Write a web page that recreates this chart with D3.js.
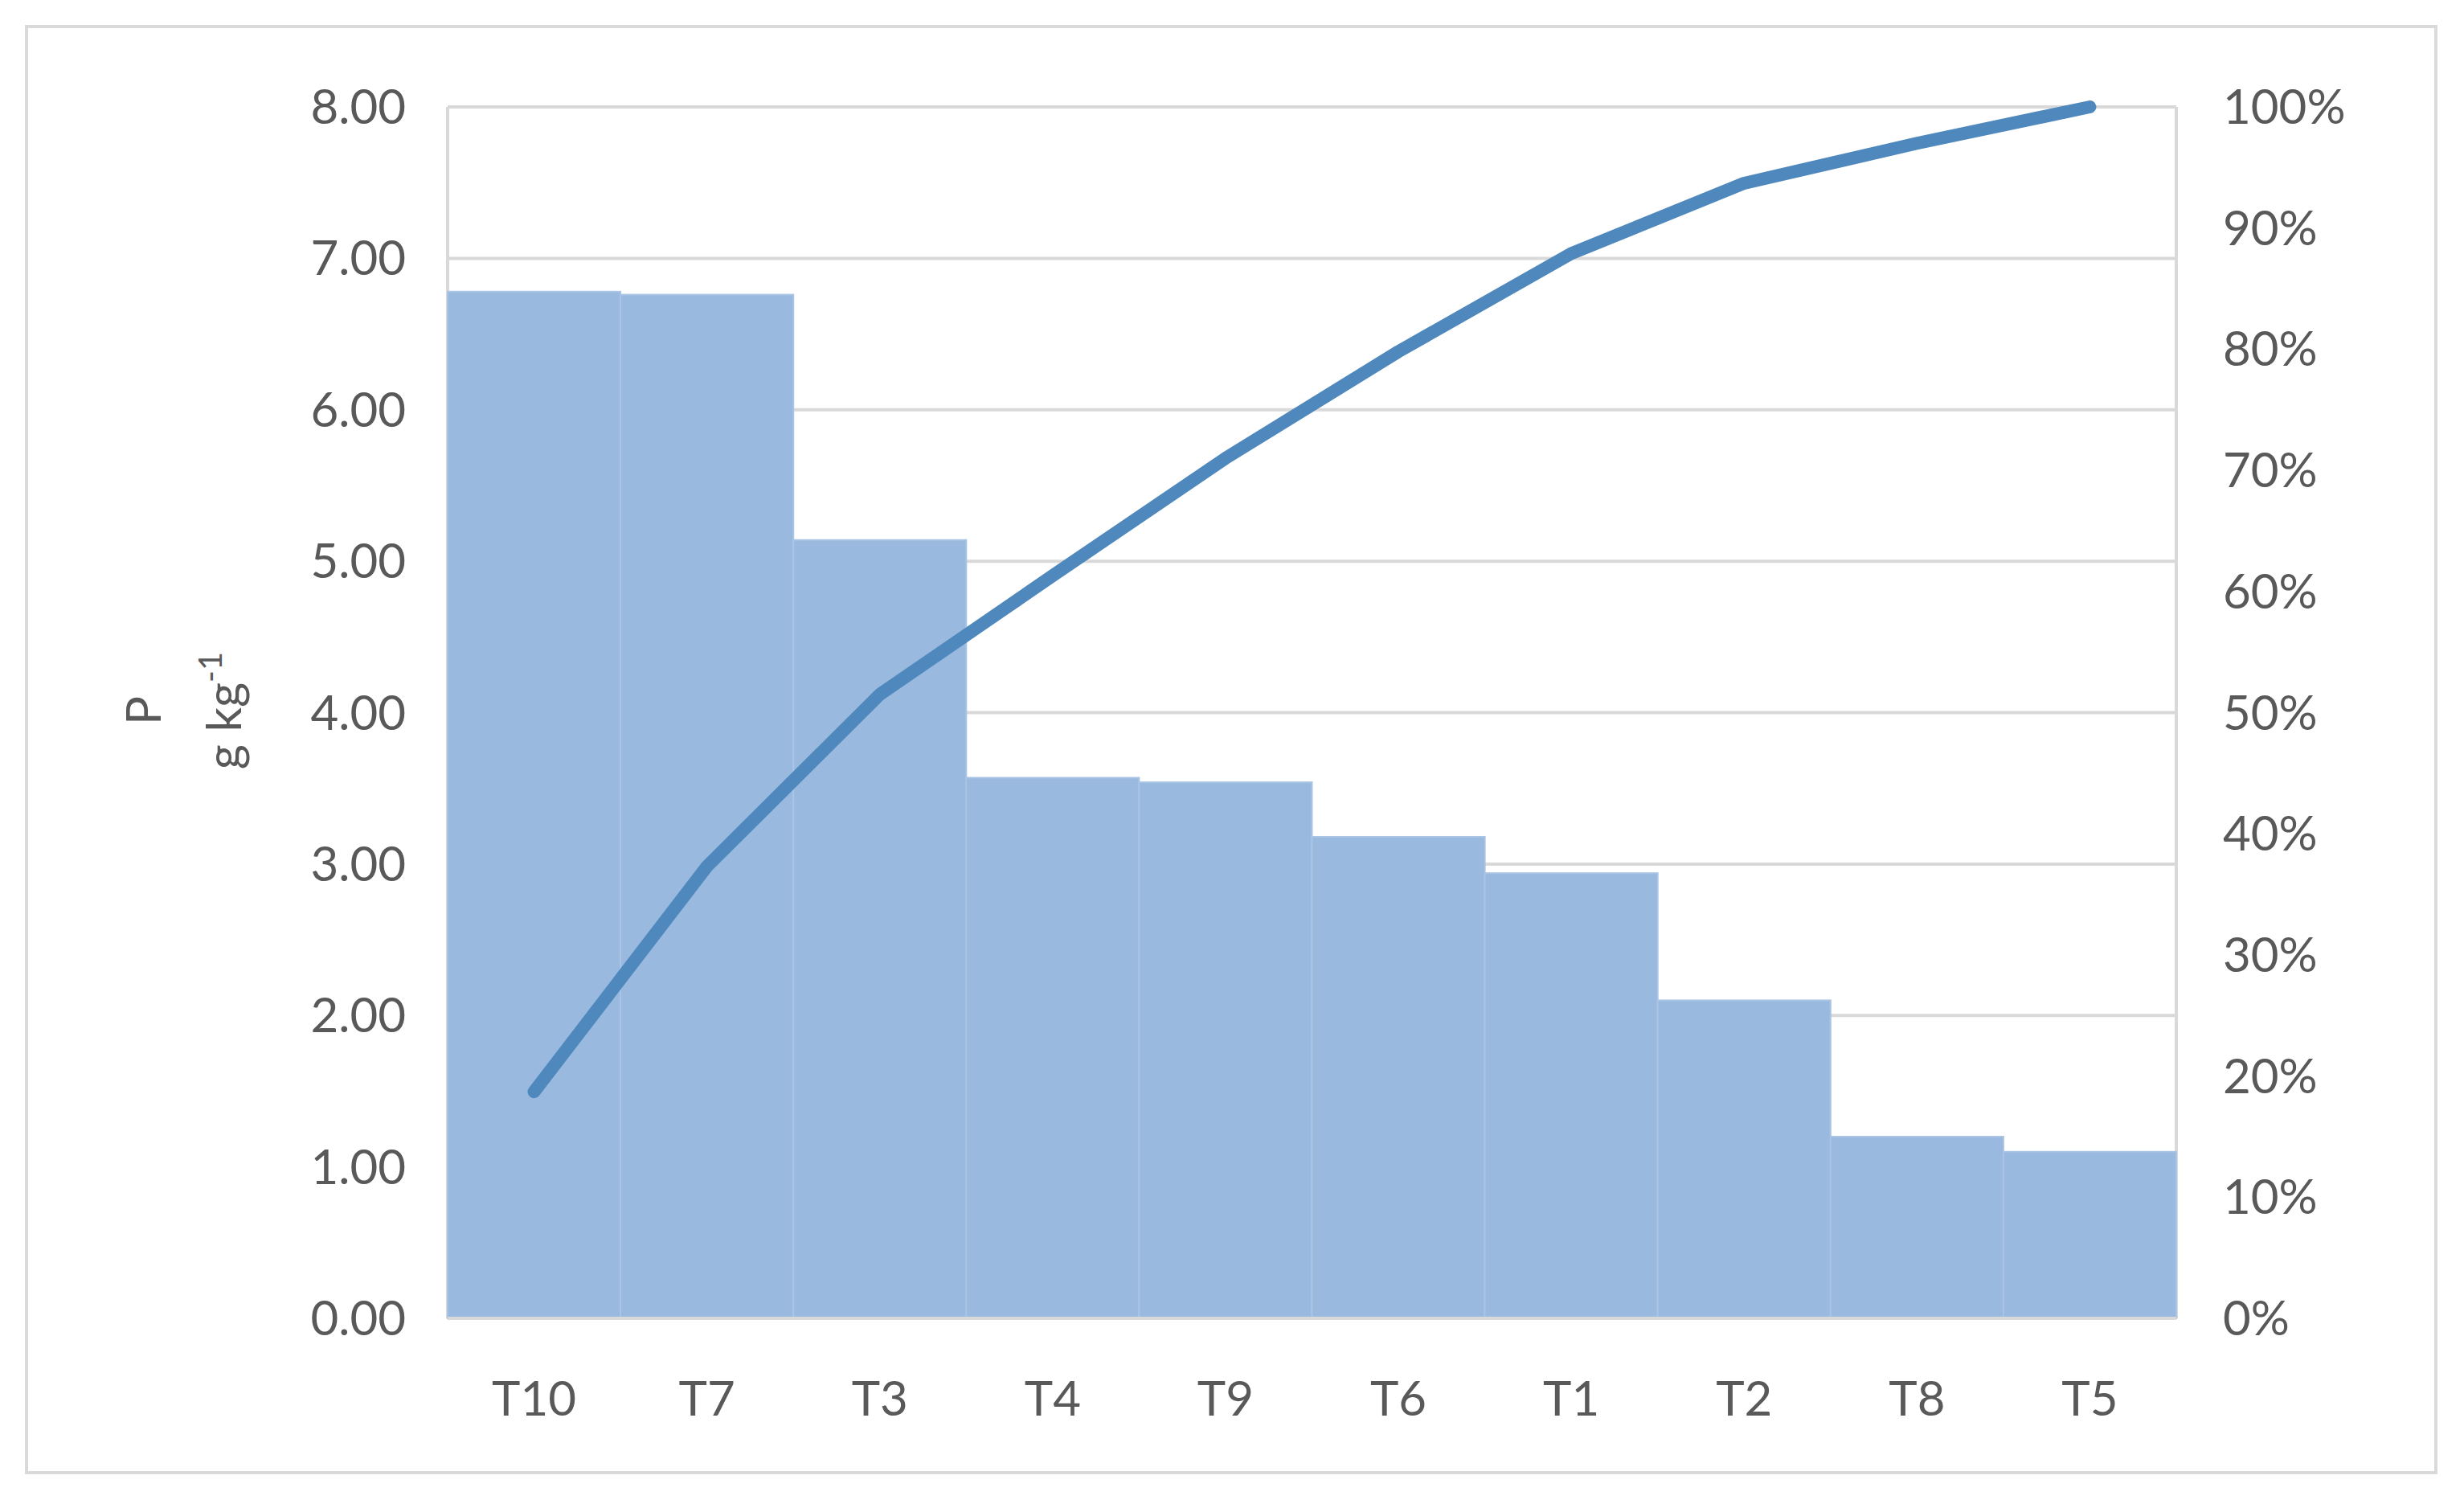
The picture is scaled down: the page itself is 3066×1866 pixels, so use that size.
<!DOCTYPE html>
<html><head><meta charset="utf-8">
<script src="https://cdn.jsdelivr.net/npm/d3@7"></script>
<style>body{margin:0;background:#fff}</style></head>
<body><svg id="c" width="3066" height="1866"></svg>
<script>
const categories = ["T10","T7","T3","T4","T9","T6","T1","T2","T8","T5"];
const values = [6.78,6.76,5.14,3.57,3.54,3.18,2.94,2.10,1.20,1.10];
const cumulative = [18.7,37.3,51.5,61.3,71.0,79.8,87.9,93.7,97.0,100];
const leftTicks = [0,1,2,3,4,5,6,7,8];
const rightTicks = [0,10,20,30,40,50,60,70,80,90,100];

const svg = d3.select("#c");
const font = "Lato, 'Open Sans', sans-serif";
const txt = "#595959";
svg.append("rect").attr("x",33).attr("y",33).attr("width",2998).attr("height",1799)
  .attr("fill","#fff").attr("stroke","#d9d9d9").attr("stroke-width",4);

const L=557, R=2708, T=133, B=1640;
const x = d3.scaleBand().domain(categories).range([L,R]).padding(0);
const y = d3.scaleLinear().domain([0,8]).range([B,T]);
const y2 = d3.scaleLinear().domain([0,100]).range([B,T]);

svg.append("g").selectAll("line").data(leftTicks).join("line")
  .attr("x1",L).attr("x2",R).attr("y1",d=>y(d)).attr("y2",d=>y(d))
  .attr("stroke","#d9d9d9").attr("stroke-width",4);
svg.append("line").attr("x1",L).attr("x2",L).attr("y1",T).attr("y2",B).attr("stroke","#d9d9d9").attr("stroke-width",4);
svg.append("line").attr("x1",R).attr("x2",R).attr("y1",T).attr("y2",B).attr("stroke","#d9d9d9").attr("stroke-width",4);

svg.append("g").selectAll("rect").data(values).join("rect")
  .attr("x",(d,i)=>x(categories[i])).attr("width",x.bandwidth())
  .attr("y",d=>y(d)).attr("height",d=>B-y(d))
  .attr("fill","#99b9df").attr("stroke","#a9c4e4").attr("stroke-width",2);

svg.append("line").attr("x1",L).attr("x2",R).attr("y1",B).attr("y2",B).attr("stroke","#d9d9d9").attr("stroke-width",4);

const line = d3.line().x((d,i)=>x(categories[i])+x.bandwidth()/2).y(d=>y2(d));
svg.append("path").attr("d",line(cumulative)).attr("fill","none")
  .attr("stroke","#4f88bd").attr("stroke-width",16).attr("stroke-linecap","round").attr("stroke-linejoin","round");

svg.append("g").selectAll("text").data(leftTicks).join("text")
  .attr("x",505).attr("y",d=>y(d)).attr("dy","0.35em").attr("text-anchor","end")
  .attr("font-family",font).attr("font-size",60).attr("fill",txt).text(d=>d.toFixed(2));
svg.append("g").selectAll("text").data(rightTicks).join("text")
  .attr("x",2766).attr("y",d=>y2(d)).attr("dy","0.35em").attr("text-anchor","start")
  .attr("font-family",font).attr("font-size",60).attr("fill",txt).text(d=>d+"%");
svg.append("g").selectAll("text").data(categories).join("text")
  .attr("x",d=>x(d)+x.bandwidth()/2).attr("y",1740).attr("dy","0.35em").attr("text-anchor","middle")
  .attr("font-family",font).attr("font-size",60).attr("fill",txt).text(d=>d);

svg.append("text").attr("transform","translate(200,884) rotate(-90)").attr("text-anchor","middle")
  .attr("font-family",font).attr("font-size",60).attr("fill",txt).text("P");
const t2 = svg.append("text").attr("transform","translate(300,884) rotate(-90)").attr("text-anchor","middle")
  .attr("font-family",font).attr("font-size",60).attr("fill",txt);
t2.append("tspan").text("g kg");
t2.append("tspan").attr("dy",-24).attr("font-size",40).text("-1");
</script></body></html>
